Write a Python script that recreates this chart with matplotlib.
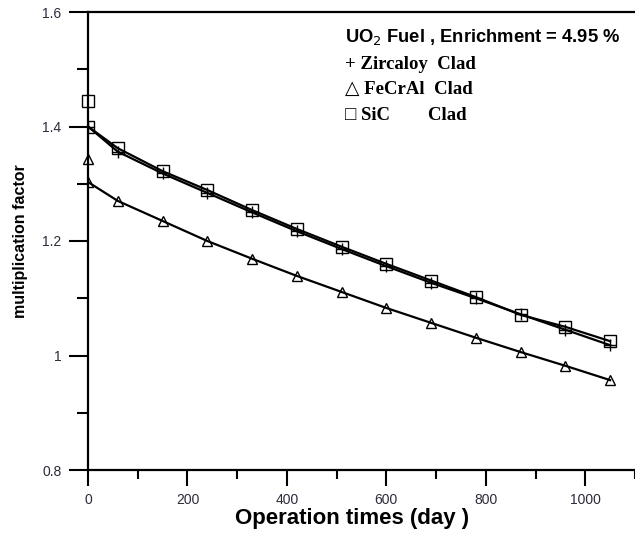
import matplotlib
matplotlib.use("Agg")
import matplotlib.pyplot as plt
from matplotlib.ticker import MultipleLocator

days = [0, 60, 150, 240, 330, 420, 510, 600, 690, 780, 870, 960, 1050]
k_zirc = [1.400, 1.356, 1.318, 1.284, 1.250, 1.217, 1.186, 1.156, 1.127, 1.100, 1.072, 1.045, 1.018]
k_fecral = [1.303, 1.270, 1.235, 1.200, 1.169, 1.139, 1.111, 1.083, 1.057, 1.031, 1.006, 0.982, 0.957]
k_sic = [1.400, 1.362, 1.322, 1.289, 1.254, 1.221, 1.190, 1.160, 1.131, 1.102, 1.071, 1.050, 1.025]

# fresh-fuel points drawn at day 0 without a line
bol_day = [0]
bol_fecral = [1.343]
bol_sic = [1.445]

tick_color = "#2b2b3b"

fig = plt.figure(figsize=(6.35, 5.34), dpi=100)
ax = fig.add_axes([88 / 635, 1 - 470 / 534, 1 - 88 / 635, (470 - 12) / 534])

ax.plot(days, k_zirc, color="black", lw=1.6, marker="+", ms=9, mew=1.0)
ax.plot(days, k_fecral, color="black", lw=1.6, marker="^", ms=7, mfc="none", mew=1.0)
ax.plot(days, k_sic, color="black", lw=1.6, marker="s", ms=8, mfc="none", mew=1.0)
ax.plot(bol_day, bol_fecral, ls="none", color="black", marker="^", ms=7, mfc="none", mew=1.0, clip_on=False)
ax.plot(bol_day, bol_sic, ls="none", color="black", marker="s", ms=8, mfc="none", mew=1.0, clip_on=False)

ax.set_xlim(0, 1100)
ax.set_ylim(0.8, 1.6)
ax.xaxis.set_minor_locator(MultipleLocator(100))
ax.yaxis.set_minor_locator(MultipleLocator(0.1))
ax.set_xticks([0, 200, 400, 600, 800, 1000])
ax.set_xticklabels(["0", "200", "400", "600", "800", "1000"])
ax.set_yticks([0.8, 1.0, 1.2, 1.4, 1.6])
ax.set_yticklabels(["0.8", "1", "1.2", "1.4", "1.6"])

ax.tick_params(which="both", direction="out", width=1.5, labelsize=10, labelcolor=tick_color)
ax.tick_params(axis="x", which="major", length=11.5, pad=5)
ax.tick_params(axis="x", which="minor", length=6.5)
ax.tick_params(axis="y", which="major", length=14, pad=5)
ax.tick_params(axis="y", which="minor", length=8)
ax.spines["right"].set_visible(False)
for s in ["left", "bottom", "top"]:
    ax.spines[s].set_linewidth(1.6)

for lab in ax.get_xticklabels() + ax.get_yticklabels():
    lab.set_family("Liberation Sans")

ax.set_xlabel("Operation times (day )", family="Liberation Sans", fontweight="bold",
              fontsize=16, labelpad=1)
ax.xaxis.set_label_coords(0.482, -0.083)
ax.set_ylabel("multiplication factor", family="Liberation Sans", fontweight="bold",
              fontsize=11.5, labelpad=10)

ax.text(0.470, 0.945, "UO$_2$ Fuel , Enrichment = 4.95 %", transform=ax.transAxes,
        family="Liberation Sans", fontweight="bold", fontsize=13.2, va="center")
ax.text(0.470, 0.886, "+ Zircaloy  Clad", transform=ax.transAxes,
        family="Liberation Serif", fontweight="bold", fontsize=13.5, va="center")
ax.text(0.470, 0.830, "\u25b3 FeCrAl  Clad", transform=ax.transAxes,
        family=["Liberation Serif", "DejaVu Sans"], fontweight="bold", fontsize=13.5, va="center")
ax.text(0.470, 0.773, "\u25a1 SiC        Clad", transform=ax.transAxes,
        family=["Liberation Serif", "DejaVu Sans"], fontweight="bold", fontsize=13.5, va="center")

fig.savefig("out.png", dpi=100)
